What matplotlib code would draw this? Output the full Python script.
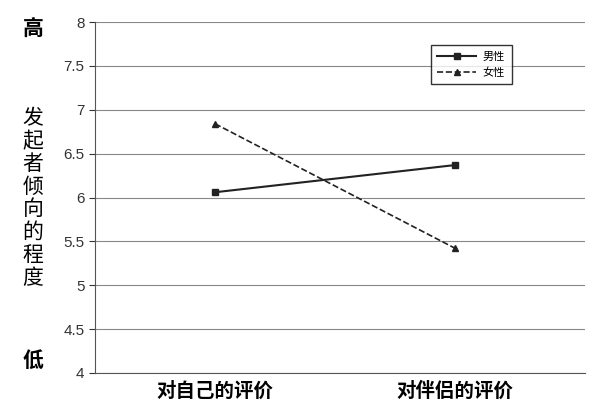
import matplotlib
matplotlib.use("Agg")
import matplotlib.pyplot as plt

plt.rcParams['font.family'] = ['Noto Sans CJK SC', 'DejaVu Sans']

categories = ["对自己的评价", "对伴侣的评价"]
male = [6.06, 6.37]
female = [6.84, 5.42]
yticks = [4, 4.5, 5, 5.5, 6, 6.5, 7, 7.5, 8]

fig = plt.figure(figsize=(6, 4.18), dpi=100)
ax = fig.add_axes([95/600, 45/418, 490/600, 351/418])
x = [0, 1]
ax.plot(x, male, '-', color='#222222', marker='s', markersize=5, lw=1.5, label='男性')
ax.plot(x, female, '--', color='#222222', marker='^', markersize=5, lw=1.2, label='女性')
ax.set_xlim(-0.5, 1.54)
ax.set_ylim(4, 8)
ax.set_yticks(yticks)
ax.set_yticklabels([f"{t:g}" for t in yticks], fontsize=11, family=['Liberation Sans'])
ax.set_xticks(x)
ax.set_xticklabels(categories, fontsize=14, fontweight='bold')
ax.yaxis.grid(True, color='#888888', lw=0.8)
ax.set_axisbelow(True)
for s in ['top', 'right']:
    ax.spines[s].set_visible(False)
ax.spines['left'].set_color('#555555')
ax.spines['bottom'].set_color('#555555')
ax.tick_params(axis='x', length=0, pad=6)
ax.tick_params(axis='y', length=4, colors='#333333')
leg = ax.legend(loc='upper left', bbox_to_anchor=(0.685, 0.935), fontsize=8, frameon=True,
                fancybox=False, edgecolor='black', handlelength=3.5, borderpad=0.6,
                handletextpad=0.6, borderaxespad=0)
leg.get_frame().set_linewidth(1)

fig.text(33/600, 1 - 28/418, "高", fontsize=15, ha='center', va='center', fontweight='bold')
fig.text(33/600, 1 - 360/418, "低", fontsize=15, ha='center', va='center', fontweight='bold')
fig.text(33/600, 1 - 198/418, "\n".join("发起者倾向的程度"), fontsize=15, ha='center', va='center', linespacing=1.05)
fig.savefig("out.png", dpi=100, facecolor='white')
